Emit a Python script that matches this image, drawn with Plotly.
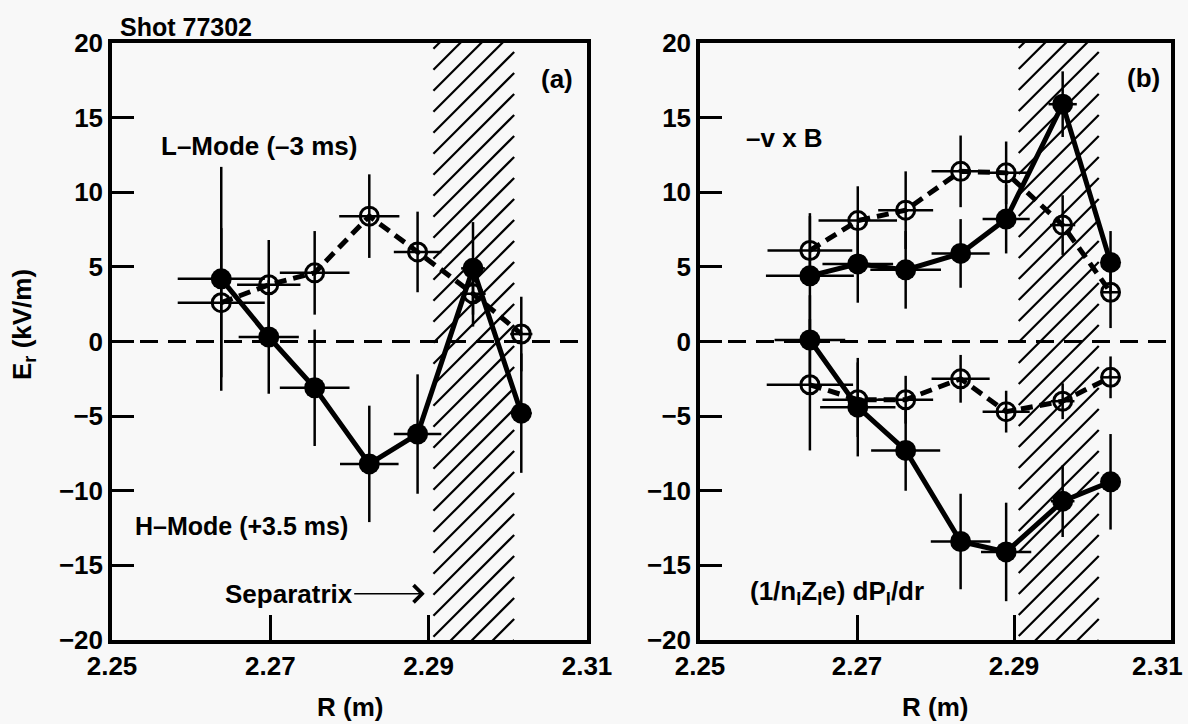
import plotly.graph_objects as go

# ---------------- data ----------------
# Panel (a): total Er, L-mode (-3 ms, open) and H-mode (+3.5 ms, filled)
R_a = [2.2638, 2.2698, 2.2756, 2.2825, 2.2886, 2.2956, 2.3017]
L_E = [2.6, 3.8, 4.6, 8.4, 6.0, 3.2, 0.5]
L_dE = [5.0, 3.0, 2.8, 2.8, 2.7, 2.2, 2.5]
L_dR = [0.0055, 0.0040, 0.0044, 0.0038, 0.0030, 0.0016, 0.0014]
H_E = [4.2, 0.3, -3.1, -8.2, -6.2, 4.9, -4.8]
H_dE = [7.5, 3.8, 3.9, 3.9, 4.0, 3.1, 4.0]
H_dR = [0.0055, 0.0038, 0.0044, 0.0037, 0.0030, 0.0015, 0.0013]

# Panel (b): -v x B and (1/nZe) dP/dr terms
R_b = [2.2640, 2.2701, 2.2762, 2.2832, 2.2890, 2.2962, 2.3023]
VB_L = [6.1, 8.1, 8.8, 11.4, 11.3, 7.8, 3.3]
VB_L_dE = [2.3, 2.3, 2.6, 2.4, 2.1, 2.0, 2.4]
VB_L_dR = [0.0054, 0.0050, 0.0035, 0.0037, 0.0030, 0.0016, 0.0012]
VB_H = [4.4, 5.2, 4.8, 5.9, 8.2, 15.9, 5.3]
VB_H_dE = [4.2, 2.6, 2.6, 2.3, 2.3, 2.2, 2.1]
VB_H_dR = [0.0056, 0.0045, 0.0045, 0.0037, 0.0030, 0.0018, 0.0012]
DP_L = [-2.9, -3.9, -3.9, -2.5, -4.7, -4.0, -2.4]
DP_L_dE = [4.4, 2.5, 1.6, 1.6, 1.4, 1.2, 1.4]
DP_L_dR = [0.0055, 0.0045, 0.0035, 0.0037, 0.0030, 0.0015, 0.0012]
DP_H = [0.1, -4.4, -7.3, -13.4, -14.1, -10.7, -9.4]
DP_H_dE = [3.0, 3.3, 2.7, 3.2, 3.3, 2.4, 3.2]
DP_H_dR = [0.0045, 0.0048, 0.0044, 0.0038, 0.0032, 0.0015, 0.0012]

SEPARATRIX_BAND = [2.2906, 2.3008]
X_RANGE = [2.25, 2.31]
Y_RANGE = [-20, 20]
X_TICKS = [2.25, 2.27, 2.29, 2.31]
X_TICKTEXT = ["2.25", "2.27", "2.29", "2.31"]
Y_TICKS = [-20, -15, -10, -5, 0, 5, 10, 15, 20]

# ---------------- style ----------------
FONT = "Liberation Sans, Arial, Helvetica, sans-serif"
BG = "#f8f8f8"
W, H = 1188, 724
PLOT_TOP, PLOT_BOTTOM = 43, 640
PANEL_A = (112, 587)
PANEL_B = (700, 1171)
HATCH_GAP_PX = 21  # vertical spacing of hatch lines

fig = go.Figure()


def band(xa, ya, panel):
    """Diagonal (45 degree on screen) hatching of the separatrix band."""
    x0, x1 = SEPARATRIX_BAND
    px_per_R = (panel[1] - panel[0]) / (X_RANGE[1] - X_RANGE[0])
    px_per_E = (PLOT_BOTTOM - PLOT_TOP) / (Y_RANGE[1] - Y_RANGE[0])
    rise = (x1 - x0) * px_per_R / px_per_E
    step = HATCH_GAP_PX / px_per_E
    xs, ys = [], []
    y = Y_RANGE[0] - rise
    while y < Y_RANGE[1]:
        xs += [x0, x1, None]
        ys += [y, y + rise, None]
        y += step
    fig.add_trace(go.Scatter(x=xs, y=ys, xaxis=xa, yaxis=ya, mode="lines",
                             line=dict(color="black", width=2.2),
                             hoverinfo="skip", showlegend=False))


def zero(xa, ya):
    fig.add_trace(go.Scatter(x=X_RANGE, y=[0, 0], xaxis=xa, yaxis=ya, mode="lines",
                             line=dict(color="black", width=3, dash="18px,10px"),
                             hoverinfo="skip", showlegend=False))


def series(xa, ya, R, E, dE, dR, filled):
    fig.add_trace(go.Scatter(
        x=R, y=E, xaxis=xa, yaxis=ya, mode="lines+markers",
        line=dict(color="black", width=5, dash=None if filled else "12px,7px"),
        marker=dict(symbol="circle" if filled else "circle-open",
                    size=21 if filled else 18, color="black",
                    line=dict(color="black", width=0 if filled else 3)),
        error_y=dict(type="data", array=dE, visible=True, color="black", thickness=2.5, width=0),
        error_x=dict(type="data", array=dR, visible=True, color="black", thickness=2.5, width=0),
        showlegend=False))


band("x", "y", PANEL_A)
zero("x", "y")
series("x", "y", R_a, L_E, L_dE, L_dR, False)
series("x", "y", R_a, H_E, H_dE, H_dR, True)

band("x2", "y2", PANEL_B)
zero("x2", "y2")
series("x2", "y2", R_b, VB_L, VB_L_dE, VB_L_dR, False)
series("x2", "y2", R_b, VB_H, VB_H_dE, VB_H_dR, True)
series("x2", "y2", R_b, DP_L, DP_L_dE, DP_L_dR, False)
series("x2", "y2", R_b, DP_H, DP_H_dE, DP_H_dR, True)

tickfont = dict(family=FONT, size=26, color="black", weight="bold")
common_x = dict(range=X_RANGE, ticks="inside", ticklen=25,
                tickwidth=3, tickcolor="black", showline=True, mirror=True, linewidth=3.5,
                linecolor="black", showgrid=False, zeroline=False, tickfont=tickfont,
                automargin=False, ticklabeloverflow="allow")
common_y = dict(range=Y_RANGE, tickvals=Y_TICKS, ticks="inside", ticklen=22, tickwidth=3,
                tickcolor="black", showline=True, mirror=True, linewidth=3.5, linecolor="black",
                showgrid=False, zeroline=False, tickfont=tickfont, automargin=False,
                ticklabeloverflow="allow")


def px(x):
    return x / W


def py(y):
    return 1 - y / H


fig.update_layout(
    width=W, height=H, autosize=False,
    margin=dict(l=0, r=0, t=0, b=0, pad=0, autoexpand=False),
    paper_bgcolor=BG, plot_bgcolor=BG,
    xaxis=dict(domain=[px(PANEL_A[0]), px(PANEL_A[1])], anchor="y",
               tickvals=X_TICKS, ticktext=X_TICKTEXT, **common_x),
    yaxis=dict(domain=[py(PLOT_BOTTOM), py(PLOT_TOP)], anchor="x", **common_y),
    # last tick label of panel (b) sits at the page edge; it is drawn as a note below
    xaxis2=dict(domain=[px(PANEL_B[0]), px(PANEL_B[1])], anchor="y2",
                tickvals=X_TICKS, ticktext=X_TICKTEXT[:-1] + [""], **common_x),
    yaxis2=dict(domain=[py(PLOT_BOTTOM), py(PLOT_TOP)], anchor="x2", **common_y),
)


def label(text, x, y, size=26, xanchor="center", angle=0):
    fig.add_annotation(text=text, x=px(x), y=py(y), xref="paper", yref="paper",
                       xanchor=xanchor, yanchor="middle", showarrow=False, textangle=angle,
                       font=dict(family=FONT, size=size, color="black", weight="bold"))


label("Shot 77302", 118, 27, size=25, xanchor="left")
label("(a)", 557, 79)
label("(b)", 1143, 78)
label("L–Mode (–3 ms)", 259, 146)
label("H–Mode (+3.5 ms)", 241, 526, size=25)
label("–v x B", 784, 138)
label("(1/n<sub>I</sub>Z<sub>I</sub>e) dP<sub>I</sub>/dr", 837, 592)
label("E<sub>r</sub> (kV/m)", 24, 325, angle=-90)
label("R (m)", 350, 707)
label("R (m)", 935, 707)
label(X_TICKTEXT[-1], 1185, 666, xanchor="right")

# separatrix arrow
fig.add_annotation(text="Separatrix", x=2.2895, y=-16.9, xref="x", yref="y",
                   showarrow=True, arrowhead=4, arrowsize=2.2, arrowwidth=1.5, arrowcolor="black",
                   ax=-136, ay=0, standoff=0,
                   font=dict(family=FONT, size=26, color="black", weight="bold"))

fig.write_html("out.html", config={"displayModeBar": False},
               post_script="document.body.style.margin='0';")
